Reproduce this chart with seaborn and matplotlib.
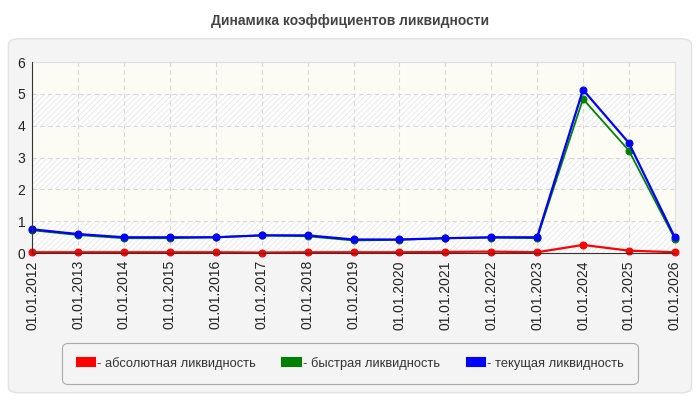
import numpy as np
import pandas as pd
import matplotlib
matplotlib.use("Agg")
import matplotlib.pyplot as plt
from matplotlib.patches import FancyBboxPatch, Patch
import seaborn as sns

dates = ['01.01.2012', '01.01.2013', '01.01.2014', '01.01.2015', '01.01.2016',
         '01.01.2017', '01.01.2018', '01.01.2019', '01.01.2020', '01.01.2021',
         '01.01.2022', '01.01.2023', '01.01.2024', '01.01.2025', '01.01.2026']
absolute = [0.03, 0.03, 0.03, 0.03, 0.03, 0.02, 0.03, 0.03, 0.03, 0.04, 0.05, 0.03, 0.26, 0.08, 0.03]
quick = [0.72, 0.57, 0.47, 0.47, 0.50, 0.56, 0.53, 0.40, 0.42, 0.47, 0.49, 0.47, 4.84, 3.22, 0.45]
current = [0.75, 0.60, 0.50, 0.50, 0.50, 0.56, 0.56, 0.43, 0.43, 0.47, 0.50, 0.50, 5.13, 3.46, 0.50]
series_names = ['абсолютная ликвидность', 'быстрая ликвидность', 'текущая ликвидность']
colors = ['#ff0000', '#008000', '#0000ff']

df = pd.DataFrame({'date': dates * 3,
                   'value': absolute + quick + current,
                   'series': np.repeat(series_names, len(dates))})
df['x'] = np.tile(np.arange(len(dates)), 3)

sns.set_style('white')
plt.rcParams['font.family'] = ['Liberation Sans', 'DejaVu Sans']
plt.rcParams['hatch.linewidth'] = 0.6

fig = plt.figure(figsize=(7, 4), dpi=100)
fig.patch.set_facecolor('white')

# outer rounded panel (behind the axes)
panel = FancyBboxPatch((0.012, 0.018), 0.976, 0.885, boxstyle='round,pad=0,rounding_size=0.015',
                       transform=fig.transFigure, facecolor='#f4f4f4', edgecolor='#e2e2e2',
                       linewidth=1, zorder=-10)
fig.patches.append(panel)

fig.text(0.5, 0.948, 'Динамика коэффициентов ликвидности', ha='center', va='center',
         fontsize=10, fontweight='bold', color='#444444')

ax = fig.add_axes([0.046, 0.367, 0.918, 0.478])
ax.set_facecolor('#fcfcf4')
# alternating bands: hatched on white / plain ivory
for lo in (0, 2, 4):
    ax.axhspan(lo, lo + 1, facecolor='white', edgecolor='#e6e6e6', hatch='//////',
               linewidth=0, zorder=0)

widths = {series_names[0]: 1.6, series_names[1]: 1.3, series_names[2]: 1.6}
for name, col in zip(series_names, colors):
    sub = df[df['series'] == name]
    sns.lineplot(data=sub, x='x', y='value', color=col, marker='o', markersize=5,
                 markeredgecolor=col, linewidth=widths[name], ax=ax, legend=False,
                 zorder=3, clip_on=False)

ax.set_xlim(0, len(dates) - 1)
ax.set_ylim(0, 6)
ax.set_xticks(range(len(dates)))
ax.set_xticklabels(dates, rotation=90, fontsize=10, color='#222222')
ax.set_yticks(range(0, 7))
ax.tick_params(axis='y', labelsize=10, colors='#222222', length=3, pad=2)
ax.tick_params(axis='x', length=3, pad=2)
ax.set_xlabel('')
ax.set_ylabel('')
ax.grid(True, color='#d8d8d8', linestyle=(0, (4, 3)), linewidth=0.8, zorder=1)
for s in ['top', 'right']:
    ax.spines[s].set_color('#e0e0e0')
for s in ['left', 'bottom']:
    ax.spines[s].set_color('#333333')
    ax.spines[s].set_zorder(4)

handles = [Patch(facecolor=c, edgecolor=c, joinstyle='round', linewidth=1.5) for c in colors]
labels = ['- ' + n for n in series_names]
leg = fig.legend(handles, labels, loc='center', bbox_to_anchor=(0.5, 0.092), ncol=3,
                 frameon=True, fontsize=9.3, handlelength=1.4, handleheight=0.55,
                 handletextpad=0.15, columnspacing=2.1, borderpad=0.9,
                 fancybox=True, edgecolor='#aaaaaa', facecolor='#f4f4f4')
for t in leg.get_texts():
    t.set_color('#333333')
leg.get_frame().set_linewidth(0.8)
leg.get_frame().set_alpha(1)
leg.get_frame().set_boxstyle('round,pad=0.2,rounding_size=0.4')

fig.savefig('out.png', dpi=100)
